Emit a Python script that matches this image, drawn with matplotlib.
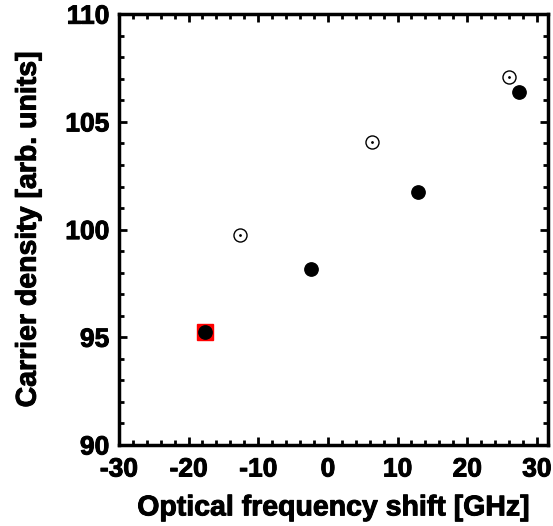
import numpy as np
import matplotlib
matplotlib.use('Agg')
import matplotlib.pyplot as plt
import matplotlib.patheffects as pe
from matplotlib.ticker import MultipleLocator

plt.rcParams['font.family'] = ['Liberation Sans', 'DejaVu Sans']
plt.rcParams['font.weight'] = 'bold'
plt.rcParams['axes.unicode_minus'] = False

# filled points
shift_filled = [-17.6, -2.4, 12.9, 27.4]
density_filled = [95.25, 98.17, 101.73, 106.39]

# open points (circle with a dot)
shift_open = [-12.6, 6.4, 26.0]
density_open = [99.74, 104.05, 107.09]

# highlighted point
shift_hl = [-17.6]
density_hl = [95.25]

fig = plt.figure(figsize=(5.53, 5.26), dpi=100)
ax = fig.add_axes([0.215, 0.154, 0.776, 0.819])

ax.plot(shift_hl, density_hl, 's', color='red', markersize=12, zorder=2)
ax.plot(shift_filled, density_filled, 'o', color='black', markersize=9.6, zorder=3)
ax.plot(shift_open, density_open, 'o', mfc='white', mec='black', mew=1.0, markersize=9.4, zorder=3)
ax.plot(shift_open, density_open, '.', color='black', markersize=2, zorder=4)

ax.set_xlim(-30, 31.6)
ax.set_ylim(90, 110)
ax.xaxis.set_major_locator(MultipleLocator(10))
ax.xaxis.set_minor_locator(MultipleLocator(2))
ax.yaxis.set_major_locator(MultipleLocator(5))
ax.yaxis.set_minor_locator(MultipleLocator(1))

ax.tick_params(which='both', direction='in', top=True, right=True, labelsize=19)
ax.tick_params(which='major', length=6, width=2)
ax.tick_params(which='minor', length=3.5, width=2)
ax.tick_params(axis='x', which='major', pad=9)
ax.tick_params(axis='y', which='major', pad=7)
for s in ax.spines.values():
    s.set_linewidth(2.5)

ax.set_xlabel('Optical frequency shift [GHz]', fontsize=20.5, fontweight='bold', labelpad=10)
ax.set_ylabel('Carrier density [arb. units]', fontsize=20.5, fontweight='bold', labelpad=17)

# heavier strokes on the text, like the original
bold = [pe.withStroke(linewidth=0.7, foreground='black')]
for t in ax.get_xticklabels() + ax.get_yticklabels() + [ax.xaxis.label, ax.yaxis.label]:
    t.set_path_effects(bold)

fig.savefig('out.png', dpi=100)
